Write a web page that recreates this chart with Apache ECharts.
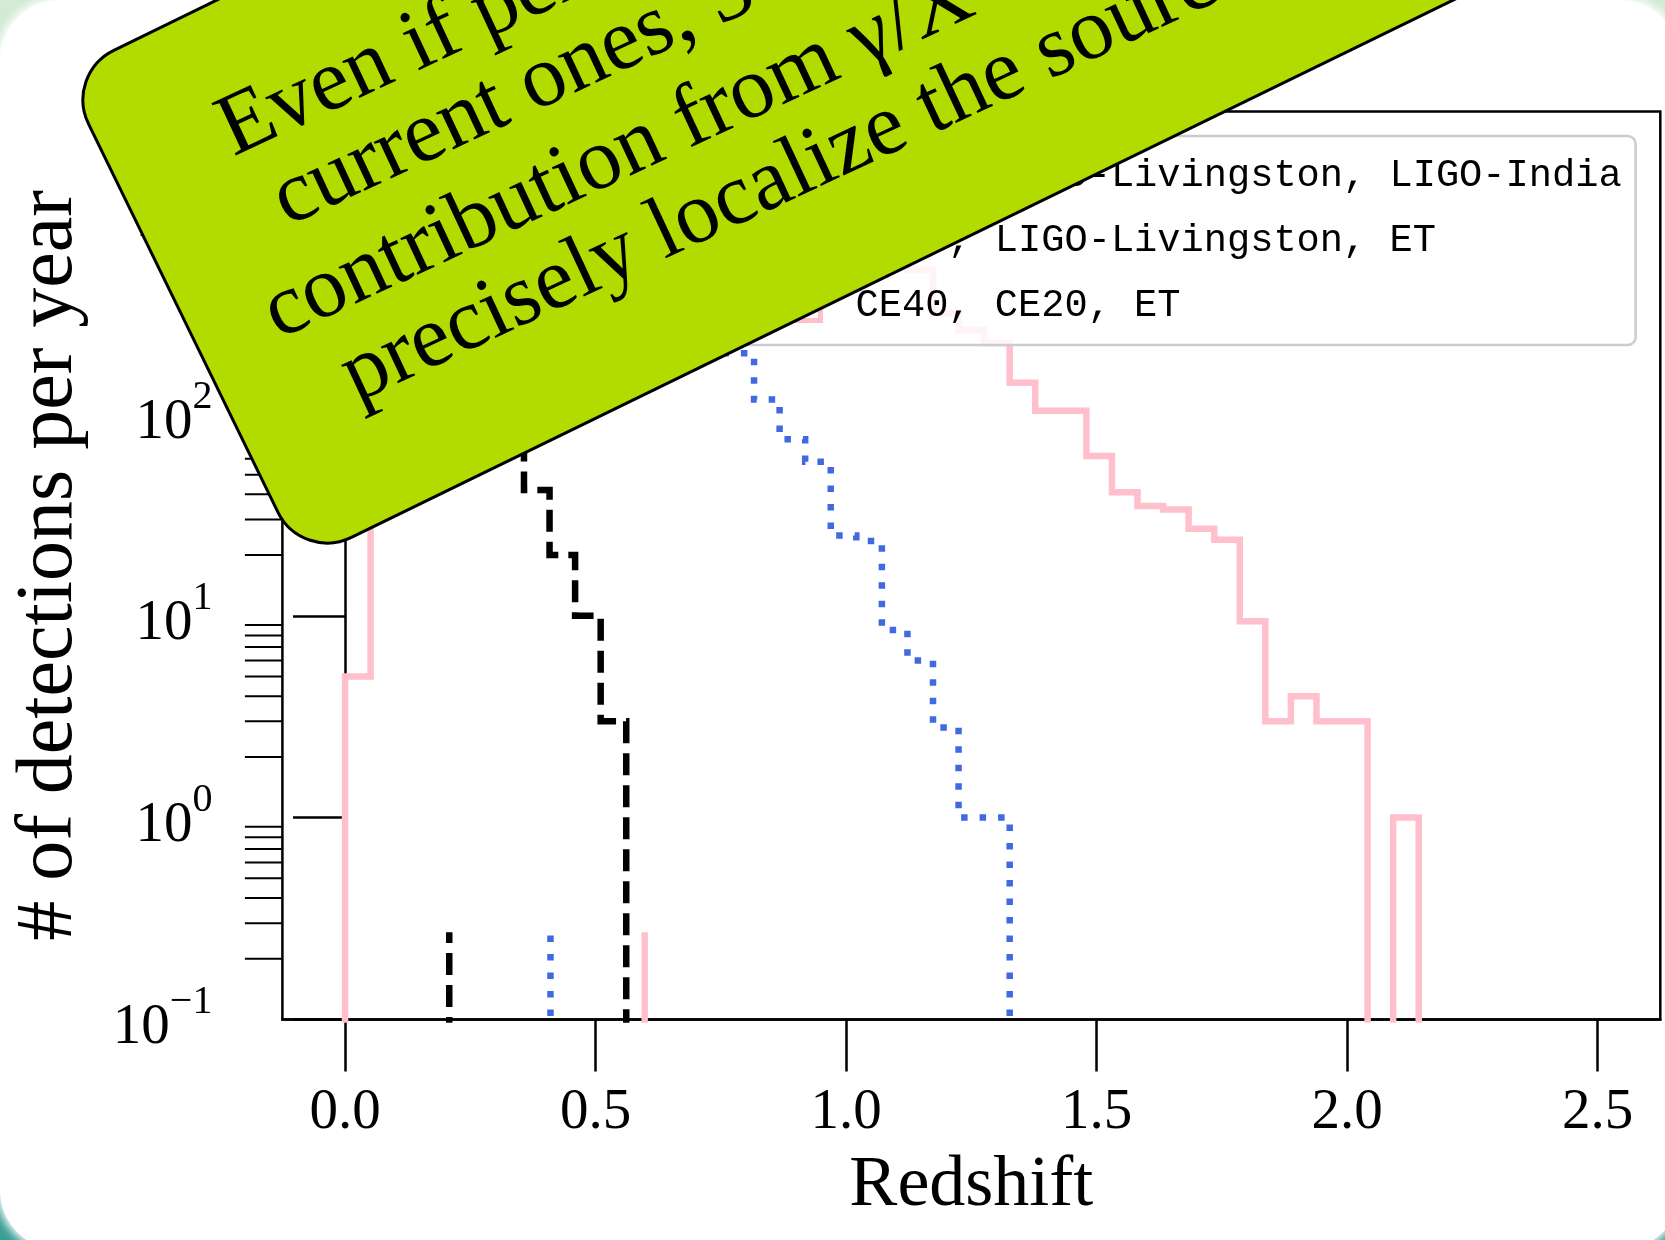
<!DOCTYPE html>
<html>
<head>
<meta charset="utf-8">
<script src="https://cdn.jsdelivr.net/npm/echarts@6/dist/echarts.min.js"></script>
<style>
  html, body { margin: 0; padding: 0; width: 1665px; height: 1240px; overflow: hidden; }
  body { position: relative; background: linear-gradient(180deg, #d3ead3 0%, #a9d6c0 45%, #3a9e97 100%); }
  #card { position: absolute; left: 0; top: 0; width: 1680px; height: 1250px; border-radius: 60px;
          background: #fff; box-shadow: 0 0 8px 3px #fff; }
  #chart { position: absolute; left: 0; top: 0; width: 1665px; height: 1240px; }
</style>
</head>
<body>
<div id="card"></div>
<div id="chart"></div>
<script>
// Redshift histogram binning: 49 equal-width bins between z = 0 and z = 2.5
const BIN_LO = 0;
const BIN_HI = 2.5;
const BIN_N = 49;

// Detector networks (legend order)
const networkNames = [
  'CE40, LIGO-Livingston, LIGO-India',
  'CE40, LIGO-Livingston, ET',
  'CE40, CE20, ET'
];

// Detections per year in each redshift bin, starting at the given bin index
const blackFirstBin = 4;
const blackCounts = [90, 110, 80, 42, 20, 10, 3];

const blueFirstBin = 8;
const blueCounts = [150, 300, 420, 480, 450, 380, 290, 200, 118, 75, 58, 25, 23.5, 8.5, 6, 2.8, 1, 1];

const pinkFirstBin = 0;
const pinkCounts = [5, 60, 160, 320, 520, 760, 1000, 1250, 1480, 1700, 1900, 2050, 2150, 2100, 2000,
                    1850, 1650, 1450, 1200, 1000, 820, 650, 517, 316, 261, 225, 143, 104, 104, 62,
                    41, 35, 33.7, 27, 23.8, 9.4, 3, 4, 3, 3, 0, 1];

// Short baseline stubs left by the step outlines
const stubX = [0.208, 0.410, 0.598];
const stubTop = 0.27;

// Axes
const xTicks = [0, 0.5, 1.0, 1.5, 2.0, 2.5];
const X_MIN = -0.125, X_MAX = 2.625;
const Y_MIN = 0.1, Y_MAX = Math.pow(10, 3.5);
const yMinorTicks = [0.2, 0.3, 0.4, 0.5, 0.6, 0.7, 0.8, 0.9,
                     2, 3, 4, 5, 6, 7, 8, 9,
                     20, 30, 40, 50, 60, 70, 80, 90,
                     200, 300, 400, 500, 600, 700, 800, 900,
                     2000, 3000];

// Callout text, one entry per line
const calloutLines = [
  'Even if performances are better than the',
  'current ones, 3G detectors still need the',
  'contribution from \u03b3/X-ray telescopes to',
  'precisely localize the source'
];

const FLOOR = 1e-3;  // stand-in for empty bins on the log axis (falls below the plot)
const binEdges = Array.from({ length: BIN_N + 1 }, (_, k) => BIN_LO + k * (BIN_HI - BIN_LO) / BIN_N);

function stepOutline(counts, first, riseFromAxis) {
  const pts = [];
  if (riseFromAxis) pts.push([binEdges[first], FLOOR]);
  counts.forEach((c, i) => {
    const v = c > 0 ? c : FLOOR;
    pts.push([binEdges[first + i], v], [binEdges[first + i + 1], v]);
  });
  pts.push([binEdges[first + counts.length], FLOOR]);
  return pts;
}

const styles = [
  { color: '#000000', type: [22, 10] },
  { color: '#4169e1', type: [6.5, 12] },
  { color: '#ffc0cb', type: 'solid' }
];
const outlines = [
  stepOutline(blackCounts, blackFirstBin, false),
  stepOutline(blueCounts, blueFirstBin, false),
  stepOutline(pinkCounts, pinkFirstBin, true)
];

const LW = 6.5;
const series = [];
outlines.forEach((pts, i) => {
  series.push({
    name: networkNames[i], type: 'line', data: pts, showSymbol: false, symbol: 'none',
    z: 3, silent: true, animation: false,
    lineStyle: { color: styles[i].color, width: LW, type: styles[i].type, cap: 'butt', join: 'miter' },
    itemStyle: { color: styles[i].color }
  });
});
stubX.forEach((x, i) => {
  series.push({
    name: 'stub' + i, type: 'line', data: [[x, FLOOR], [x, stubTop]], showSymbol: false, symbol: 'none',
    z: 3, silent: true, animation: false,
    lineStyle: { color: styles[i].color, width: LW, type: styles[i].type, cap: 'butt' }
  });
});
// minor ticks of the logarithmic y axis (2..9 x 10^k)
series.push({
  type: 'custom', silent: true, animation: false, clip: false, z: 4,
  data: yMinorTicks.map(v => [X_MIN, v]),
  renderItem: (params, api) => {
    const p = api.coord([api.value(0), api.value(1)]);
    return { type: 'line', shape: { x1: p[0] - 37.5, y1: p[1], x2: p[0], y2: p[1] },
             style: { stroke: '#000', lineWidth: 2 } };
  }
});

const SERIF = '"Liberation Serif", "DejaVu Serif", serif';

// Callout: rotated rounded banner, text lines placed by their baseline start
const BANNER_ANGLE = 26 * Math.PI / 180;
const TEXT_ANGLE = 25.0 * Math.PI / 180;
const BANNER_FONT = 88;
const lineOrigins = [[235, 160], [289, 230], [280, 343], [358, 406]];

const graphics = [
  { type: 'rect', x: 64.4, y: 74.4, rotation: BANNER_ANGLE, z: 100,
    shape: { x: 0, y: 0, width: 1900, height: 542, r: 55 },
    style: { fill: '#b2dc00', stroke: '#000', lineWidth: 3 } }
].concat(calloutLines.map((t, i) => ({
  type: 'text', x: lineOrigins[i][0], y: lineOrigins[i][1], rotation: TEXT_ANGLE, z: 101,
  style: { text: t, x: 0, y: -0.305 * BANNER_FONT, font: BANNER_FONT + 'px ' + SERIF, fill: '#000',
           textAlign: 'left', verticalAlign: 'middle' }
})));

const option = {
  backgroundColor: 'transparent',
  animation: false,
  grid: { left: 282.4, right: 4.7, top: 111.4, bottom: 220.6, show: true,
          borderColor: '#000', borderWidth: 2.5, backgroundColor: 'transparent' },
  xAxis: {
    type: 'value', min: X_MIN, max: X_MAX,
    name: 'Redshift', nameLocation: 'middle', nameGap: 131,
    nameTextStyle: { fontFamily: SERIF, fontSize: 72, color: '#000' },
    axisLine: { show: true, onZero: false, lineStyle: { color: '#000', width: 2.5 } },
    axisTick: { show: true, length: 52, lineStyle: { color: '#000', width: 2.5 }, customValues: xTicks },
    axisLabel: { customValues: xTicks, margin: 65, fontFamily: SERIF, fontSize: 57, color: '#000',
                 formatter: v => v.toFixed(1) },
    splitLine: { show: false }
  },
  yAxis: {
    type: 'log', logBase: 10, min: Y_MIN, max: Y_MAX,
    name: '# of detections per year', nameLocation: 'middle', nameGap: 192, nameRotate: 90,
    nameTextStyle: { fontFamily: SERIF, fontSize: 80, color: '#000' },
    axisLine: { show: true, lineStyle: { color: '#000', width: 2.5 } },
    axisTick: { show: true, length: 52, lineStyle: { color: '#000', width: 2.5 } },
    axisLabel: {
      margin: 70, color: '#000',
      formatter: v => {
        const e = Math.log10(v);
        const r = Math.round(e);
        if (Math.abs(e - r) > 1e-6) return '';
        return '{m|10}{s|' + (r < 0 ? '\u2212' + (-r) : r) + '}';
      },
      rich: {
        m: { fontFamily: SERIF, fontSize: 57, lineHeight: 74, verticalAlign: 'bottom', color: '#000' },
        s: { fontFamily: SERIF, fontSize: 40, lineHeight: 40, verticalAlign: 'top', color: '#000' }
      }
    },
    splitLine: { show: false },
    minorTick: { show: false }
  },
  legend: {
    orient: 'vertical', left: 718, top: 136, z: 10,
    padding: [20, 14, 20, 14], itemGap: 26, itemWidth: 86, itemHeight: 30,
    backgroundColor: 'rgba(255,255,255,0.8)', borderColor: '#cccccc', borderWidth: 2.5, borderRadius: 8,
    selectedMode: false,
    textStyle: { fontFamily: '"Liberation Mono", monospace', fontSize: 38.7, lineHeight: 32, color: '#000',
                 padding: [0, 0, 0, 30] },
    data: networkNames.map((n, i) => ({
      name: n, icon: 'rect',
      itemStyle: { color: 'rgba(0,0,0,0)', borderColor: styles[i].color, borderWidth: 5,
                   borderType: i === 0 ? 'dashed' : (i === 1 ? 'dotted' : 'solid') }
    }))
  },
  graphic: graphics,
  series: series
};

const chart = echarts.init(document.getElementById('chart'), null, { renderer: 'canvas' });
chart.setOption(option);
</script>
</body>
</html>
